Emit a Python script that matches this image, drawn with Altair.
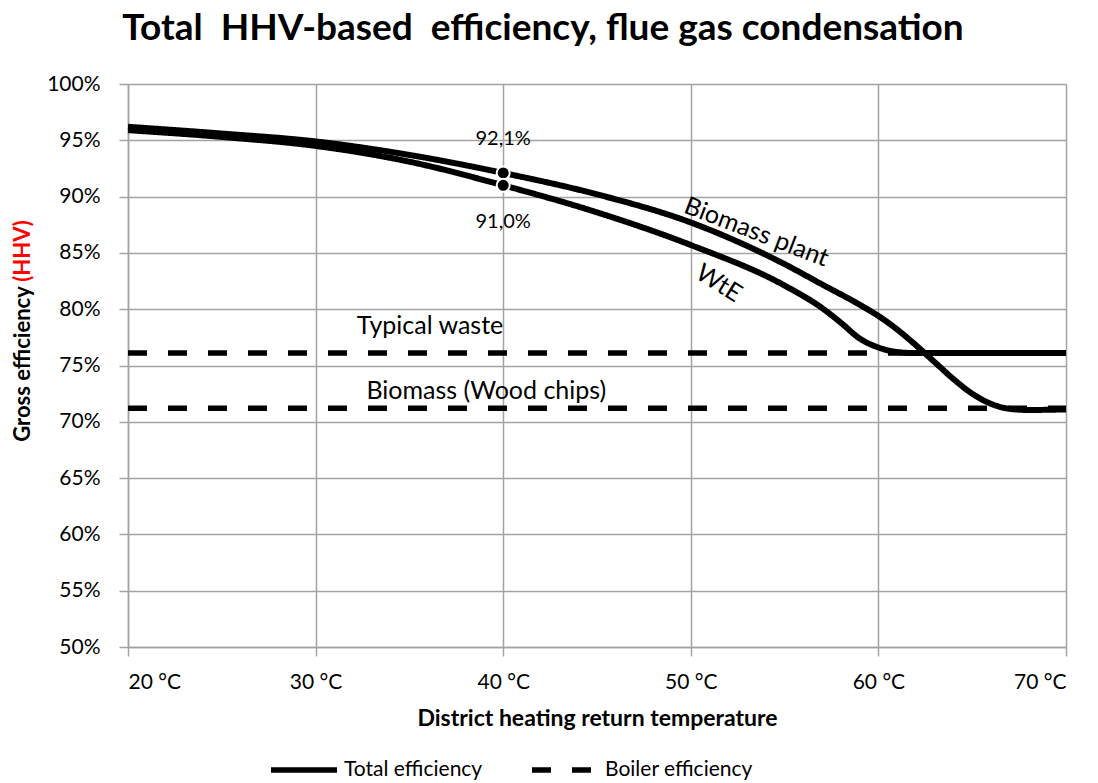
import altair as alt
import pandas as pd

# ---- data ----
temps_bio = [20, 25, 30, 35, 40, 45, 50, 55, 57, 59, 60, 61, 62, 63, 64, 65, 66, 67, 68, 70]
eff_bio = [96.2, 95.6, 94.9, 93.7, 92.1, 90.2, 87.7, 84.0, 82.2, 80.4, 79.4, 78.2, 76.8,
           75.3, 73.8, 72.5, 71.6, 71.15, 71.05, 71.1]
temps_wte = [20, 25, 30, 35, 40, 45, 50, 55, 57, 58, 59, 60, 61, 62, 63, 70]
eff_wte = [95.9, 95.3, 94.5, 93.1, 91.0, 88.6, 85.7, 82.1, 80.1, 78.8, 77.4, 76.6, 76.2,
           76.1, 76.1, 76.1]
boiler_names = ["Typical waste", "Biomass (Wood chips)"]
boiler_eff = [76.1, 71.2]
boiler_span = [20, 70]
marker_temp = 40
marker_vals = [92.1, 91.0]
marker_labels = ["92,1%", "91,0%"]
x_ticks = [20, 30, 40, 50, 60, 70]
y_ticks = list(range(50, 101, 5))

FONT = "Lato"
GRID = "#a3a3a3"

total_rows = [{"name": "Biomass plant", "t": t, "e": e, "type": "Total efficiency"}
              for t, e in zip(temps_bio, eff_bio)]
total_rows += [{"name": "WtE", "t": t, "e": e, "type": "Total efficiency"}
               for t, e in zip(temps_wte, eff_wte)]
total_df = pd.DataFrame(total_rows)

boiler_df = pd.DataFrame([{"name": n, "t": t, "e": e, "type": "Boiler efficiency"}
                          for n, e in zip(boiler_names, boiler_eff) for t in boiler_span])

marker_df = pd.DataFrame({"t": [marker_temp] * 2, "e": marker_vals, "label": marker_labels})

xs = alt.X("t:Q", scale=alt.Scale(domain=[20, 70], nice=False),
           axis=alt.Axis(values=x_ticks, labelExpr="datum.value + ' °C'",
                         title="District heating return temperature"))
ys = alt.Y("e:Q", scale=alt.Scale(domain=[50, 100], nice=False),
           axis=alt.Axis(values=y_ticks, labelExpr="datum.value + '%'", title=None))

dash = alt.StrokeDash("type:N",
                      scale=alt.Scale(domain=["Total efficiency", "Boiler efficiency"],
                                      range=[[1, 0], [19, 21]]),
                      legend=alt.Legend(title=None, orient="none", direction="horizontal",
                                        legendX=140, legendY=650, symbolType="stroke",
                                        symbolSize=4356, symbolStrokeWidth=5.5,
                                        symbolStrokeColor="black", labelFontSize=21,
                                        labelFont=FONT, labelColor="black", labelOffset=4,
                                        columnPadding=38))

boiler = alt.Chart(boiler_df).mark_line(color="black", strokeWidth=5.5).encode(
    x=xs, y=ys, strokeDash=dash, detail="name:N")

total = alt.Chart(total_df).mark_line(color="black", strokeWidth=6, interpolate="monotone").encode(
    x=xs, y=ys, strokeDash=dash, detail="name:N")

points = alt.Chart(marker_df).mark_point(filled=True, color="black", size=170, opacity=1,
                                         stroke="white", strokeWidth=2).encode(x=xs, y=ys)

label_hi = alt.Chart(marker_df).transform_filter(alt.datum.e > 92).mark_text(
    font=FONT, fontSize=20, color="black", dy=-34).encode(x=xs, y=ys, text="label:N")
label_lo = alt.Chart(marker_df).transform_filter(alt.datum.e < 92).mark_text(
    font=FONT, fontSize=20, color="black", dy=37).encode(x=xs, y=ys, text="label:N")

# curve / line annotations (data coordinates)
ann_df = pd.DataFrame({
    "t": [53.5, 51.5, 36.1, 39.1],
    "e": [86.85, 82.3, 78.5, 72.7],
    "label": ["Biomass plant", "WtE", "Typical waste", "Biomass (Wood chips)"],
    "angle": [21, 32, 0, 0],
})
ann = alt.Chart(ann_df).mark_text(font=FONT, fontSize=25, color="black").encode(
    x=xs, y=ys, text="label:N", angle=alt.Angle("angle:Q", scale=None))

one = pd.DataFrame({"k": [0]})
title = alt.Chart(one).mark_text(text="Total\u00a0 HHV-based\u00a0 efficiency, flue gas condensation",
                                 font=FONT, fontSize=37, fontWeight="bold", color="black").encode(
    x=alt.value(415), y=alt.value(-55))
ytitle1 = alt.Chart(one).mark_text(text="Gross efficiency", font=FONT, fontSize=22,
                                   fontWeight="bold", color="black", angle=270).encode(
    x=alt.value(-105), y=alt.value(280))
ytitle2 = alt.Chart(one).mark_text(text="(HHV)", font=FONT, fontSize=22,
                                   fontWeight="bold", color="#ff0000", angle=270).encode(
    x=alt.value(-105), y=alt.value(167))

chart = alt.layer(boiler, total, points, label_hi, label_lo, ann, title, ytitle1, ytitle2).properties(
    width=938, height=563,
    autosize=alt.AutoSizeParams(type="none"),
    padding={"left": 120, "top": 76, "right": 16, "bottom": 134},
).configure_view(stroke=None).configure_axis(
    grid=True, gridColor=GRID, gridWidth=1.5, domainColor=GRID, domainWidth=1.5,
    tickColor=GRID, tickWidth=1.5, tickSize=9, labelFont=FONT, labelFontSize=21,
    labelColor="black", titleFont=FONT, titleFontSize=23, titleFontWeight="bold",
    titleColor="black",
).configure_axisY(labelPadding=19).configure_axisX(labelPadding=15, titlePadding=15)

chart.save("out.html", embed_options={"renderer": "svg", "actions": False})
